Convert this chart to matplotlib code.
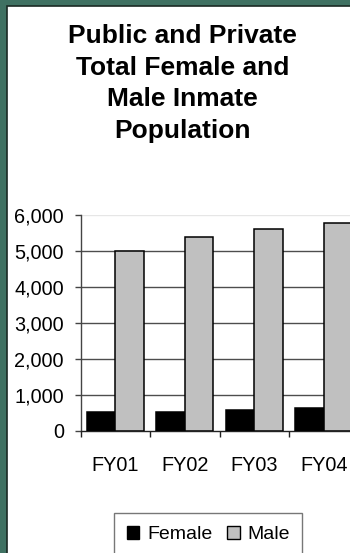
import matplotlib
matplotlib.use("Agg")
import matplotlib.pyplot as plt
from matplotlib.patches import Rectangle, Patch
import numpy as np

plt.rcParams['font.family'] = ['Liberation Sans', 'DejaVu Sans']

categories = ["FY01", "FY02", "FY03", "FY04"]
female = [530, 525, 580, 640]
male = [5000, 5390, 5610, 5780]
yticks = [0, 1000, 2000, 3000, 4000, 5000, 6000]
ytick_labels = ["0", "1,000", "2,000", "3,000", "4,000", "5,000", "6,000"]
title_text = "Public and Private\nTotal Female and\nMale Inmate\nPopulation"
legend_labels = ["Female", "Male"]

W, H = 350, 553
fig = plt.figure(figsize=(W / 100, H / 100), dpi=100)
fig.patch.set_facecolor('#3f7162')

# white panel with dark edge
fig.patches.append(Rectangle((6.5 / W, -0.1), 1.2, (H - 5.5) / H + 0.1,
                             transform=fig.transFigure, facecolor='white',
                             edgecolor='#1a2a24', linewidth=1.2, zorder=-10))

ax_left, ax_right = 80.5 / W, 358.5 / W
ax_bottom, ax_top = (H - 431) / H, (H - 215) / H
ax = fig.add_axes([ax_left, ax_bottom, ax_right - ax_left, ax_top - ax_bottom])
ax.set_facecolor('none')
ax.set_zorder(5)

x = np.arange(len(categories))
bw = 0.41
ax.bar(x - bw / 2, female, width=bw, color='black', edgecolor='black',
       linewidth=1.1, zorder=3)
ax.bar(x + bw / 2, male, width=bw, color='#c0c0c0', edgecolor='black',
       linewidth=1.1, zorder=3)

ax.set_xlim(-0.5, 3.5)
ax.set_ylim(0, 6000)

for v in yticks[1:]:
    ax.axhline(v, color='#e6e6e6' if v == 6000 else '#4d4d4d',
               linewidth=1.0, zorder=1)

for s in ['top', 'right']:
    ax.spines[s].set_visible(False)
ax.spines['left'].set_color('#444444')
ax.spines['bottom'].set_color('#222222')
ax.spines['left'].set_linewidth(1.0)
ax.spines['bottom'].set_linewidth(1.0)

ax.set_yticks(yticks)
ax.set_yticklabels(ytick_labels, fontsize=14.3)
ax.tick_params(axis='y', direction='out', length=4, width=1.0,
               color='#444444', pad=8)

ax.set_xticks([-0.5, 0.5, 1.5, 2.5, 3.5])
ax.set_xticklabels([])
ax.tick_params(axis='x', which='major', direction='out', length=4,
               width=1.0, color='#222222')
ax.set_xticks(x, minor=True)
ax.set_xticklabels(categories, minor=True, fontsize=14.3)
ax.tick_params(axis='x', which='minor', length=0, pad=18)

fig.text(182.5 / W, 1 - 24 / H, title_text, ha='center', va='top',
         fontsize=19, fontweight='bold', linespacing=1.4)

handles = [Patch(facecolor='black', edgecolor='black', linewidth=1.0),
           Patch(facecolor='#c0c0c0', edgecolor='black', linewidth=1.0)]
leg = fig.legend(handles, legend_labels, loc='upper left',
                 bbox_to_anchor=(114 / W, 1 - 513 / H), ncol=2,
                 fontsize=14, frameon=True, fancybox=False,
                 handlelength=0.65, handleheight=0.65, handletextpad=0.4,
                 columnspacing=0.75, borderpad=0.65, borderaxespad=0)
leg.get_frame().set_edgecolor('#555555')
leg.get_frame().set_linewidth(1.0)

fig.savefig("out.png", dpi=100, facecolor=fig.get_facecolor())
